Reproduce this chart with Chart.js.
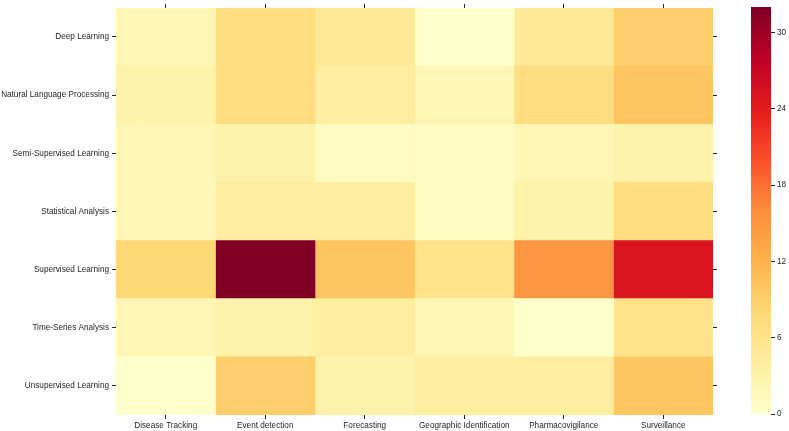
<!DOCTYPE html>
<html>
<head>
<meta charset="utf-8">
<script src="https://cdn.jsdelivr.net/npm/chart.js@4.4.1/dist/chart.umd.min.js"></script>
<style>
  html, body { margin: 0; padding: 0; background: #ffffff; }
  #wrap { position: relative; width: 789px; height: 431px; overflow: hidden; }
  #heat { position: absolute; left: 0; top: 0; width: 730px; height: 431px; }
  #cbar { position: absolute; left: 740px; top: 0; width: 49px; height: 431px; }
</style>
</head>
<body>
<div id="wrap">
  <div id="heat"><canvas id="c1"></canvas></div>
  <div id="cbar"><canvas id="c2"></canvas></div>
</div>
<script>
// ---- data ----
const rows = ["Deep Learning", "Natural Language Processing", "Semi-Supervised Learning",
  "Statistical Analysis", "Supervised Learning", "Time-Series Analysis", "Unsupervised Learning"];
const cols = ["Disease Tracking", "Event detection", "Forecasting",
  "Geographic Identification", "Pharmacovigilance", "Surveillance"];
const diseaseTracking          = [2, 3, 2, 2, 8, 2, 0];
const eventDetection           = [7, 7, 3, 4, 32, 3, 9];
const forecasting              = [5, 4, 1, 4, 10, 4, 3];
const geographicIdentification = [0, 2, 1, 1, 6, 2, 4];
const pharmacovigilance        = [5, 7, 2, 3, 15, 0, 4];
const surveillance             = [9, 10, 3, 7, 25, 6, 10];
const colorbarTicks = [0, 6, 12, 18, 24, 30];
const vmin = 0, vmax = 32;

const series = [diseaseTracking, eventDetection, forecasting,
  geographicIdentification, pharmacovigilance, surveillance];

// YlOrRd colormap
const stops = [[255,255,204],[255,237,160],[254,217,118],[254,178,76],[253,141,60],
  [252,78,42],[227,26,28],[189,0,38],[128,0,38]];
function cmap(v) {
  let t = (v - vmin) / (vmax - vmin);
  t = Math.max(0, Math.min(1, t));
  const p = t * (stops.length - 1);
  const i = Math.min(Math.floor(p), stops.length - 2);
  const f = p - i;
  const a = stops[i], b = stops[i + 1];
  const c = a.map((x, k) => Math.round(x + (b[k] - x) * f));
  return `rgb(${c[0]},${c[1]},${c[2]})`;
}

const FONT = { family: "'Liberation Sans', Arial, sans-serif", size: 8.2 };
const TXT = '#262626';
const TICKC = '#262626';
const colCenters = cols.map((_, i) => i + 0.5);

const datasets = series.map((vals, j) => ({
  label: cols[j],
  data: vals.map(() => 1),
  values: vals,
  backgroundColor: vals.map(cmap),
  borderWidth: 0,
  barPercentage: 1,
  categoryPercentage: 1,
  xAxisID: 'x',
  yAxisID: 'y'
}));

new Chart(document.getElementById('c1'), {
  type: 'bar',
  data: { labels: rows, datasets },
  options: {
    indexAxis: 'y',
    responsive: true,
    maintainAspectRatio: false,
    animation: false,
    layout: { padding: { left: 0, right: 13, top: 0, bottom: 0 } },
    plugins: {
      legend: { display: false },
      tooltip: {
        callbacks: {
          label: (ctx) => ctx.dataset.label + ': ' + ctx.dataset.values[ctx.dataIndex]
        }
      }
    },
    scales: {
      x: {
        type: 'linear', position: 'bottom', stacked: true, min: 0, max: cols.length,
        afterBuildTicks: (s) => { s.ticks = colCenters.map(v => ({ value: v })); },
        afterFit: (s) => { s.height = 16; },
        ticks: { font: FONT, color: TXT, padding: 2, maxRotation: 0, autoSkip: false,
          callback: (v, i) => cols[i] },
        grid: { drawOnChartArea: false, drawTicks: true, tickLength: 4, color: TICKC, tickWidth: 1 },
        border: { display: false }
      },
      x2: {
        type: 'linear', position: 'top', min: 0, max: cols.length,
        afterBuildTicks: (s) => { s.ticks = colCenters.map(v => ({ value: v })); },
        afterFit: (s) => { s.height = 5; },
        ticks: { display: false },
        grid: { drawOnChartArea: false, drawTicks: true, tickLength: 4, color: TICKC, tickWidth: 1 },
        border: { display: false }
      },
      y: {
        type: 'category', position: 'left', stacked: true, offset: true,
        afterFit: (s) => { s.width = 116; },
        ticks: { font: FONT, color: TXT, padding: 3, autoSkip: false },
        grid: { offset: false, drawOnChartArea: false, drawTicks: true, tickLength: 4, color: TICKC, tickWidth: 1 },
        border: { display: false }
      },
      y2: {
        type: 'category', position: 'right', offset: true, labels: rows,
        afterFit: (s) => { s.width = 4; },
        ticks: { display: false },
        grid: { offset: false, drawOnChartArea: false, drawTicks: true, tickLength: 4, color: TICKC, tickWidth: 1 },
        border: { display: false }
      }
    }
  }
});

// ---- colorbar ----
new Chart(document.getElementById('c2'), {
  type: 'bar',
  data: {
    labels: [''],
    datasets: [{
      data: [vmax],
      borderWidth: 0,
      barPercentage: 1,
      categoryPercentage: 1,
      backgroundColor: (ctx) => {
        const ch = ctx.chart;
        const area = ch.chartArea;
        if (!area) return cmap(vmax);
        const g = ch.ctx.createLinearGradient(0, area.bottom, 0, area.top);
        for (let k = 0; k <= 32; k++) {
          const v = vmin + (vmax - vmin) * k / 32;
          g.addColorStop(k / 32, cmap(v));
        }
        return g;
      }
    }]
  },
  options: {
    responsive: true,
    maintainAspectRatio: false,
    animation: false,
    layout: { padding: { left: 11, right: 0, top: 5, bottom: 17 } },
    plugins: { legend: { display: false }, tooltip: { enabled: false } },
    scales: {
      x: { display: false, offset: true },
      y: {
        position: 'right', min: vmin, max: vmax,
        afterBuildTicks: (s) => { s.ticks = colorbarTicks.map(v => ({ value: v })); },
        afterFit: (s) => { s.width = 18; },
        ticks: { font: FONT, color: TXT, padding: 2 },
        grid: { drawOnChartArea: false, drawTicks: true, tickLength: 4, color: TICKC, tickWidth: 1 },
        border: { display: false }
      }
    }
  }
});
</script>
</body>
</html>
